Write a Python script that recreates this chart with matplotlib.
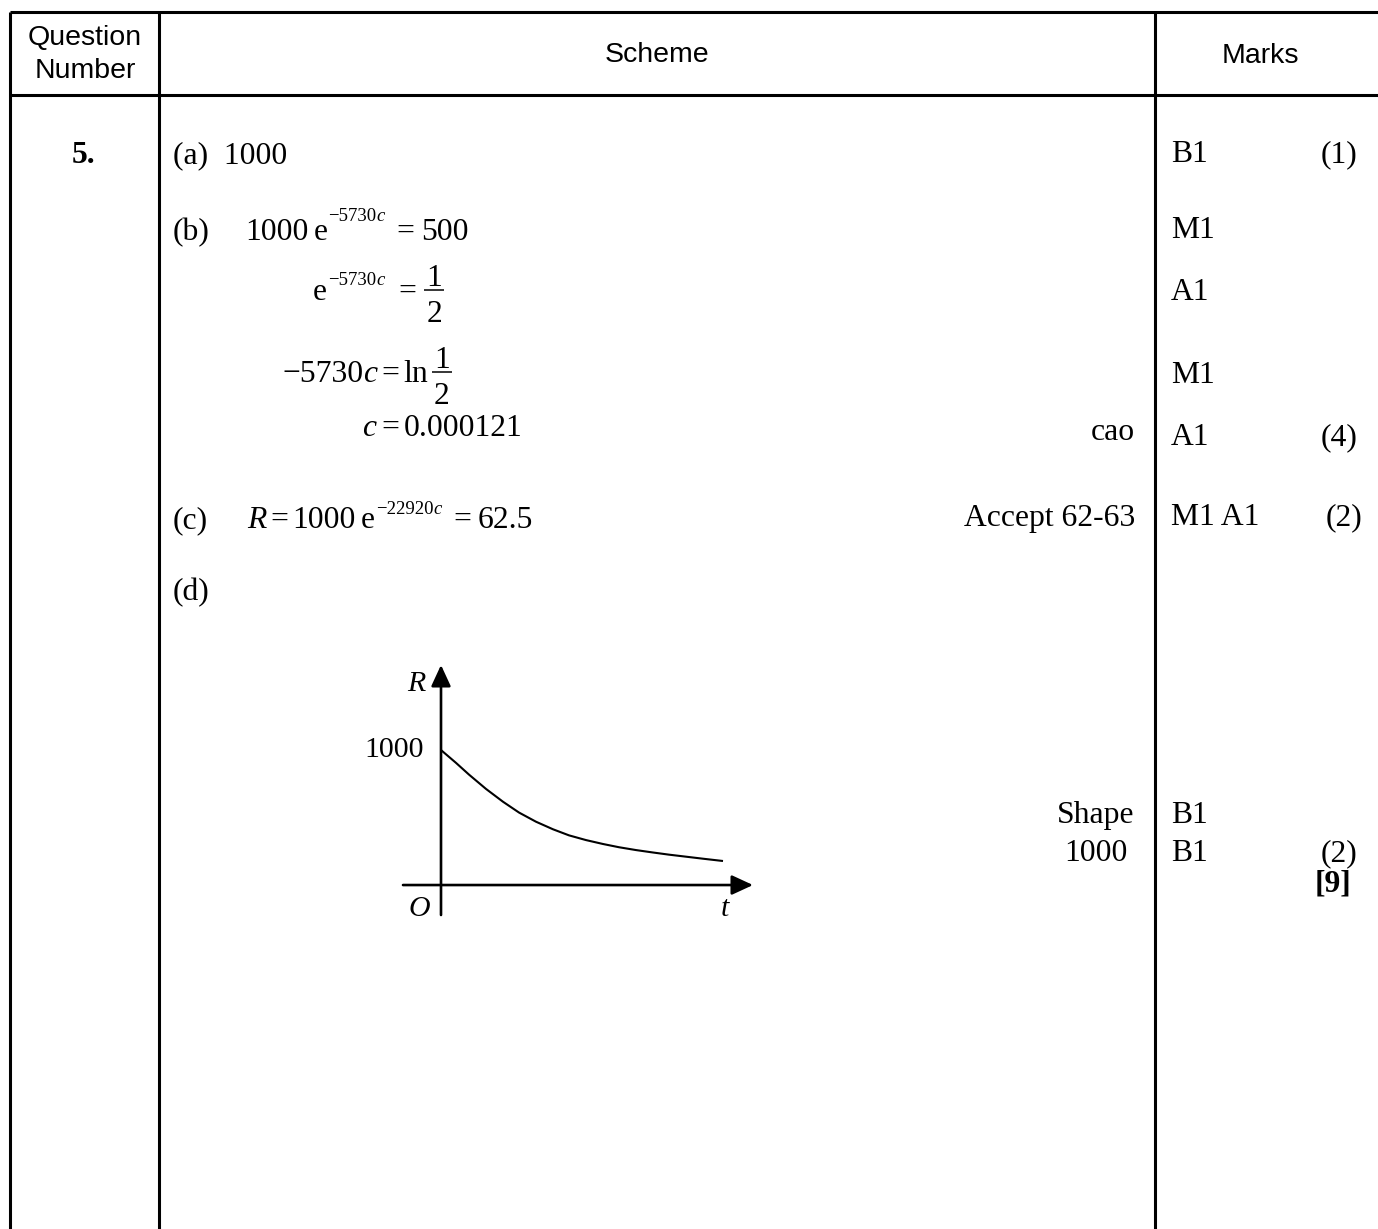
import matplotlib
matplotlib.use("Agg")
import matplotlib.pyplot as plt

# ---- content ----
header_labels = ["Question", "Number", "Scheme", "Marks"]
question_number = "5."
part_labels = ["(a)", "(b)", "(c)", "(d)"]
part_a_answer = "1000"
notes = ["cao", "Accept 62-63", "Shape", "1000"]
marks = ["B1", "M1", "A1", "M1", "A1", "M1 A1", "B1", "B1"]
totals = ["(1)", "(4)", "(2)", "(2)"]
grand_total = "[9]"

# sketch of R against t (arbitrary t units)
t_vals = [0, 1.5, 2.8, 4.5, 6.2, 7.8, 9.5, 11.2, 12.8, 14.5, 16.2, 17.8,
          19.5, 21.2, 22.8, 24.5, 26.2, 28.2]
R_vals = [1000, 905, 818, 712, 617, 537, 469, 413, 368, 333, 304, 280,
          259, 241, 225, 210, 195, 178]
t_lim = (-3.8, 31.2)
R_lim = (-222, 1630)
R_tick_label = "1000"

W, H = 1378, 1229
fig = plt.figure(figsize=(W / 100, H / 100), dpi=100)
ax = fig.add_axes([0, 0, 1, 1])
ax.set_xlim(0, W)
ax.set_ylim(H, 0)
ax.axis('off')
renderer = fig.canvas.get_renderer()

serif = 'Liberation Serif'
sans = 'Liberation Sans'
fs = 22.8
sfs = 13.5
hfs = 20.5
lw_tab = 2.2


def txt(x, y, s, **kw):
    base = dict(family=serif, fontsize=fs, va='baseline')
    base.update(kw)
    return ax.text(x, y, s, **base)


def width(t):
    return t.get_window_extent(renderer).width


def frac(xc, y, num, den):
    bar = y - 10
    txt(xc, bar - 4, num, ha='center')
    txt(xc, bar + 32, den, ha='center')
    ax.hlines(bar, xc - 10, xc + 10, color='black', lw=1.1)


def equation(x, y, pieces, raise_px=16):
    for kind, val in pieces:
        if kind == 'g':
            x += val
            continue
        if kind == 'n':
            t = txt(x, y, val)
        elif kind == 'i':
            t = txt(x, y, val, style='italic')
        elif kind == 's':
            t = txt(x, y - raise_px, val, fontsize=sfs)
        elif kind == 'si':
            t = txt(x, y - raise_px, val, fontsize=sfs, style='italic')
        x += width(t)
    return x


# table lines
ax.hlines([11.5, 94.5], 10, W, color='black', lw=lw_tab)
ax.vlines([10, 159, 1155], 11.5, H, color='black', lw=lw_tab)

# header
txt(85, 45, header_labels[0], family=sans, fontsize=hfs, ha='center')
txt(85, 78, header_labels[1], family=sans, fontsize=hfs, ha='center')
txt(657, 62, header_labels[2], family=sans, fontsize=hfs, ha='center')
txt(1260, 63, header_labels[3], family=sans, fontsize=hfs, ha='center')

# question number
txt(72, 163, question_number, weight='bold')

# (a)
txt(173, 163, part_labels[0] + "  " + part_a_answer)

# (b)
txt(173, 240, part_labels[1])
equation(245, 240, [('n', "1000"), ('g', 5), ('n', "e"), ('g', 1),
                    ('s', "\u22125730"), ('si', "c"), ('g', 12),
                    ('n', "="), ('g', 6), ('n', "500")], raise_px=19)
xe = equation(313, 300, [('n', "e"), ('g', 1), ('s', "\u22125730"), ('si', "c"),
                         ('g', 14), ('n', "="), ('g', 6)], raise_px=15)
frac(xe + 12, 300, "1", "2")
xe = equation(282, 382, [('n', "\u22125730"), ('i', "c"), ('g', 4), ('n', "="),
                         ('g', 4), ('n', "ln"), ('g', 2)])
frac(xe + 12, 382, "1", "2")
equation(362, 436, [('i', "c"), ('g', 5), ('n', "="), ('g', 5), ('n', "0.000121")])
txt(1135, 440, notes[0], ha='right')

# (c)
txt(173, 528, part_labels[2])
equation(247, 528, [('i', "R"), ('g', 4), ('n', "="), ('g', 4), ('n', "1000"),
                    ('g', 5), ('n', "e"), ('g', 1), ('s', "\u221222920"),
                    ('si', "c"), ('g', 12), ('n', "="), ('g', 6), ('n', "62.5")],
         raise_px=14)
txt(1135, 526, notes[1], ha='right')

# (d)
txt(173, 600, part_labels[3])
txt(1096, 823, notes[2], ha='center')
txt(1096, 861, notes[3], ha='center')

# marks column
mark_y = [162, 238, 300, 383, 445, 525, 823, 861]
for m, y in zip(marks, mark_y):
    txt(1171, y, m)
total_pos = [(1357, 162), (1358, 445), (1362, 525), (1357, 861)]
for tt, (x, y) in zip(totals, total_pos):
    txt(x, y, tt, ha='right')
txt(1351, 892, grand_total, weight='bold', ha='right')

# ---- sketch graph ----
gx0, gx1, gy0, gy1 = 403, 753, 665, 915
gax = fig.add_axes([gx0 / W, 1 - gy1 / H, (gx1 - gx0) / W, (gy1 - gy0) / H])
gax.set_xlim(*t_lim)
gax.set_ylim(*R_lim)
gax.axis('off')
arrow = dict(arrowstyle='-|>,head_length=0.65,head_width=0.3', lw=1.9,
             color='black', mutation_scale=20, shrinkA=0, shrinkB=0)
gax.annotate('', xy=(t_lim[1], 0), xytext=(t_lim[0], 0), arrowprops=arrow)
gax.annotate('', xy=(0, R_lim[1]), xytext=(0, R_lim[0]), arrowprops=arrow)
gax.plot(t_vals, R_vals, color='black', lw=1.5, solid_joinstyle='round',
         solid_capstyle='butt')

txt(416, 691, "R", style='italic', fontsize=21.5, ha='center')
txt(424, 757, R_tick_label, fontsize=21.5, ha='right')
txt(419, 916, "O", style='italic', fontsize=21.5, ha='center')
txt(725, 916, "t", style='italic', fontsize=21.5, ha='center')

fig.savefig("out.png", dpi=100, facecolor='white')
